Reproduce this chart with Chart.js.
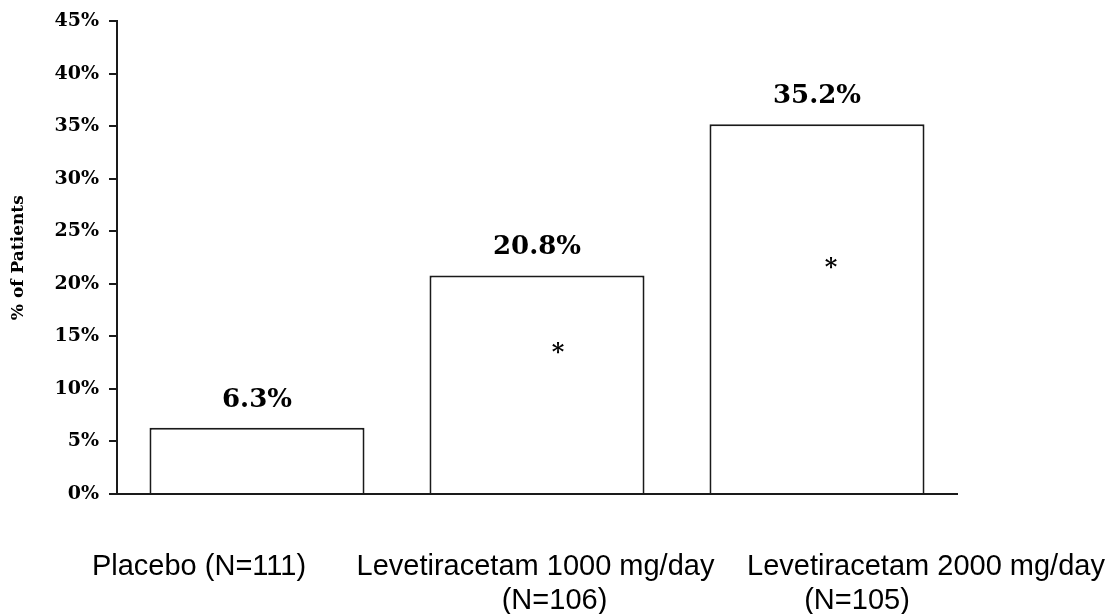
<!DOCTYPE html>
<html>
<head>
<meta charset="utf-8">
<script src="https://cdn.jsdelivr.net/npm/chart.js@4/dist/chart.umd.min.js"></script>
<style>
  html, body { margin: 0; padding: 0; background: #fff; }
  #wrap { width: 1110px; height: 614px; }
</style>
</head>
<body>
<div id="wrap"><canvas id="barChart"></canvas></div>
<script>
const groupNames = [
  ["Placebo (N=111)"],
  ["Levetiracetam 1000 mg/day", "(N=106)"],
  ["Levetiracetam 2000 mg/day", "(N=105)"],
];
const pctPatients = [6.3, 20.8, 35.2];
const starLevel = [null, 13.9, 22.0]; // where the * sits, in % units
const yTicks = [0, 5, 10, 15, 20, 25, 30, 35, 40, 45];

// the category text in the original is not centred on the bars
const nameShift = [[-58], [-1.5, 17.5], [109, 40]];
const starShift = [0, 21, 14];

const ink = "#1a1a1a";

const extraText = {
  id: "extraText",
  afterDatasetsDraw(chart) {
    const c = chart.ctx;
    const xs = chart.scales.x;
    const ys = chart.scales.y;
    const bars = chart.getDatasetMeta(0).data;
    c.save();
    c.fillStyle = "#000";

    // value over each bar
    c.font = "bold 26px 'DejaVu Serif'";
    c.textAlign = "center";
    c.textBaseline = "middle";
    bars.forEach((b, i) => {
      c.fillText(pctPatients[i].toFixed(1) + "%", b.x, b.y - 28);
    });

    // significance stars
    c.font = "bold 24px 'DejaVu Serif'";
    starLevel.forEach((v, i) => {
      if (v === null) return;
      c.fillText("*", xs.getPixelForValue(i) + starShift[i], ys.getPixelForValue(v) + 6);
    });

    // category names under the axis
    c.font = "29px 'Liberation Sans'";
    c.textBaseline = "alphabetic";
    groupNames.forEach((lines, i) => {
      lines.forEach((t, k) => {
        c.fillText(t, xs.getPixelForValue(i) + nameShift[i][k], chart.chartArea.bottom + 81 + k * 34);
      });
    });
    c.restore();
  },
};

const ctx1 = document.getElementById("barChart");

new Chart(ctx1, {
  type: "bar",
  data: {
    labels: groupNames.map((l) => l.join(" ")),
    datasets: [
      {
        data: pctPatients,
        backgroundColor: "#ffffff",
        borderColor: ink,
        borderWidth: 2,
        categoryPercentage: 1,
        barPercentage: 0.768,
      },
    ],
  },
  options: {
    responsive: true,
    maintainAspectRatio: false,
    animation: false,
    layout: {
      padding: { left: 0, right: 153, top: 19, bottom: 0 },
    },
    plugins: {
      legend: { display: false },
      tooltip: { enabled: false },
    },
    scales: {
      x: {
        grid: { display: false },
        border: { color: ink, width: 2 },
        ticks: { display: false },
        afterFit: (s) => { s.height = 120; },
      },
      y: {
        min: 0,
        max: 45,
        afterBuildTicks: (s) => { s.ticks = yTicks.map((v) => ({ value: v })); },
        afterFit: (s) => { s.width = 117; },
        grid: { drawOnChartArea: false, tickLength: 8, color: ink, lineWidth: 2 },
        border: { color: ink, width: 2 },
        ticks: {
          padding: 10,
          color: "#000",
          font: { family: "'DejaVu Serif'", size: 19, weight: "bold" },
          callback: (v) => v + "%",
        },
        title: {
          display: true,
          text: "% of Patients",
          color: "#000",
          font: { family: "'DejaVu Serif'", size: 17, weight: "bold" },
          padding: { top: 8, bottom: 0 },
        },
      },
    },
  },
  plugins: [extraText],
});
</script>
</body>
</html>
